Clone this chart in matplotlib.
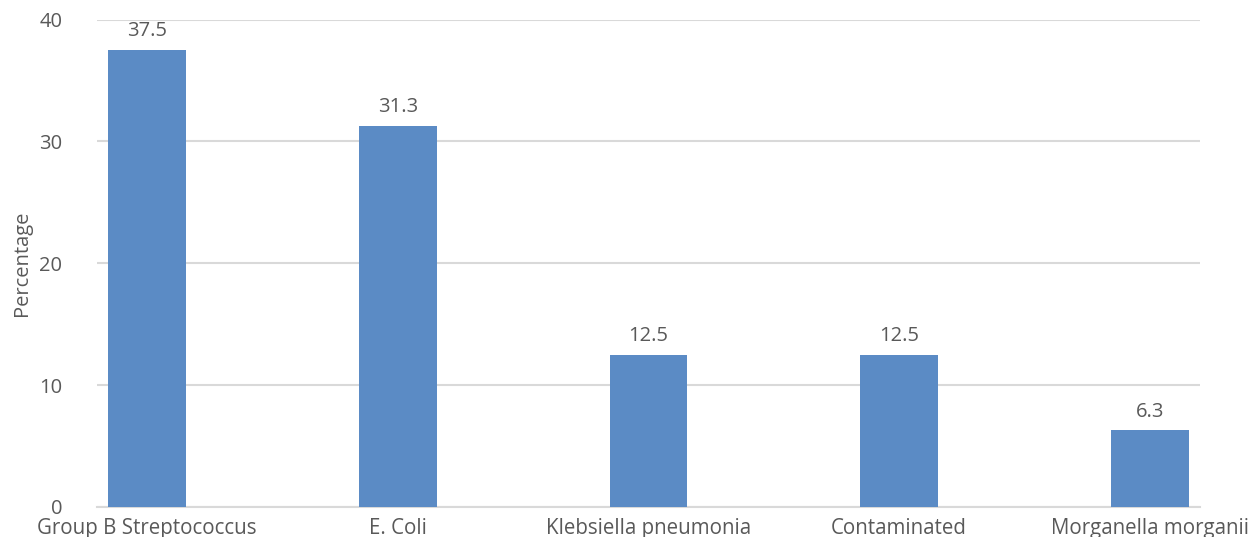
import matplotlib
matplotlib.use("Agg")
import matplotlib.pyplot as plt

categories = ["Group B Streptococcus", "E. Coli", "Klebsiella pneumonia",
              "Contaminated", "Morganella morganii"]
percentages = [37.5, 31.3, 12.5, 12.5, 6.3]
y_ticks = [0, 10, 20, 30, 40]

bar_color = "#5B8BC5"
text_color = "#595959"
grid_color = "#D9D9D9"

plt.rcParams["font.family"] = ["Open Sans", "DejaVu Sans"]

fig = plt.figure(figsize=(12.56, 5.37), dpi=100)
ax = fig.add_axes([97 / 1256, 1 - 507 / 537, (1200 - 97) / 1256, (507 - 19.5) / 537])

x = list(range(len(categories)))
ax.bar(x, percentages, width=0.31, color=bar_color, zorder=3)

for xi, v in zip(x, percentages):
    ax.text(xi, v + 0.7, f"{v:.1f}", ha="center", va="bottom",
            fontsize=14.5, color=text_color)

ax.set_xlim(-0.2, 4.2)
ax.set_ylim(0, 40)
ax.set_yticks(y_ticks)
ax.set_yticklabels([str(t) for t in y_ticks], fontsize=14.5, color=text_color)
ax.set_xticks(x)
ax.set_xticklabels(categories, fontsize=14.8, color=text_color)
ax.tick_params(axis="both", length=0)
ax.tick_params(axis="y", pad=25)
ax.tick_params(axis="x", pad=8)

ax.yaxis.grid(True, color=grid_color, linewidth=1.5, zorder=0)
for side in ["top", "right", "left"]:
    ax.spines[side].set_visible(False)
ax.spines["bottom"].set_color(grid_color)
ax.spines["bottom"].set_linewidth(1.5)

ax.set_ylabel("Percentage", fontsize=14.5, color=text_color, labelpad=5)

fig.savefig("out.png", dpi=100)
